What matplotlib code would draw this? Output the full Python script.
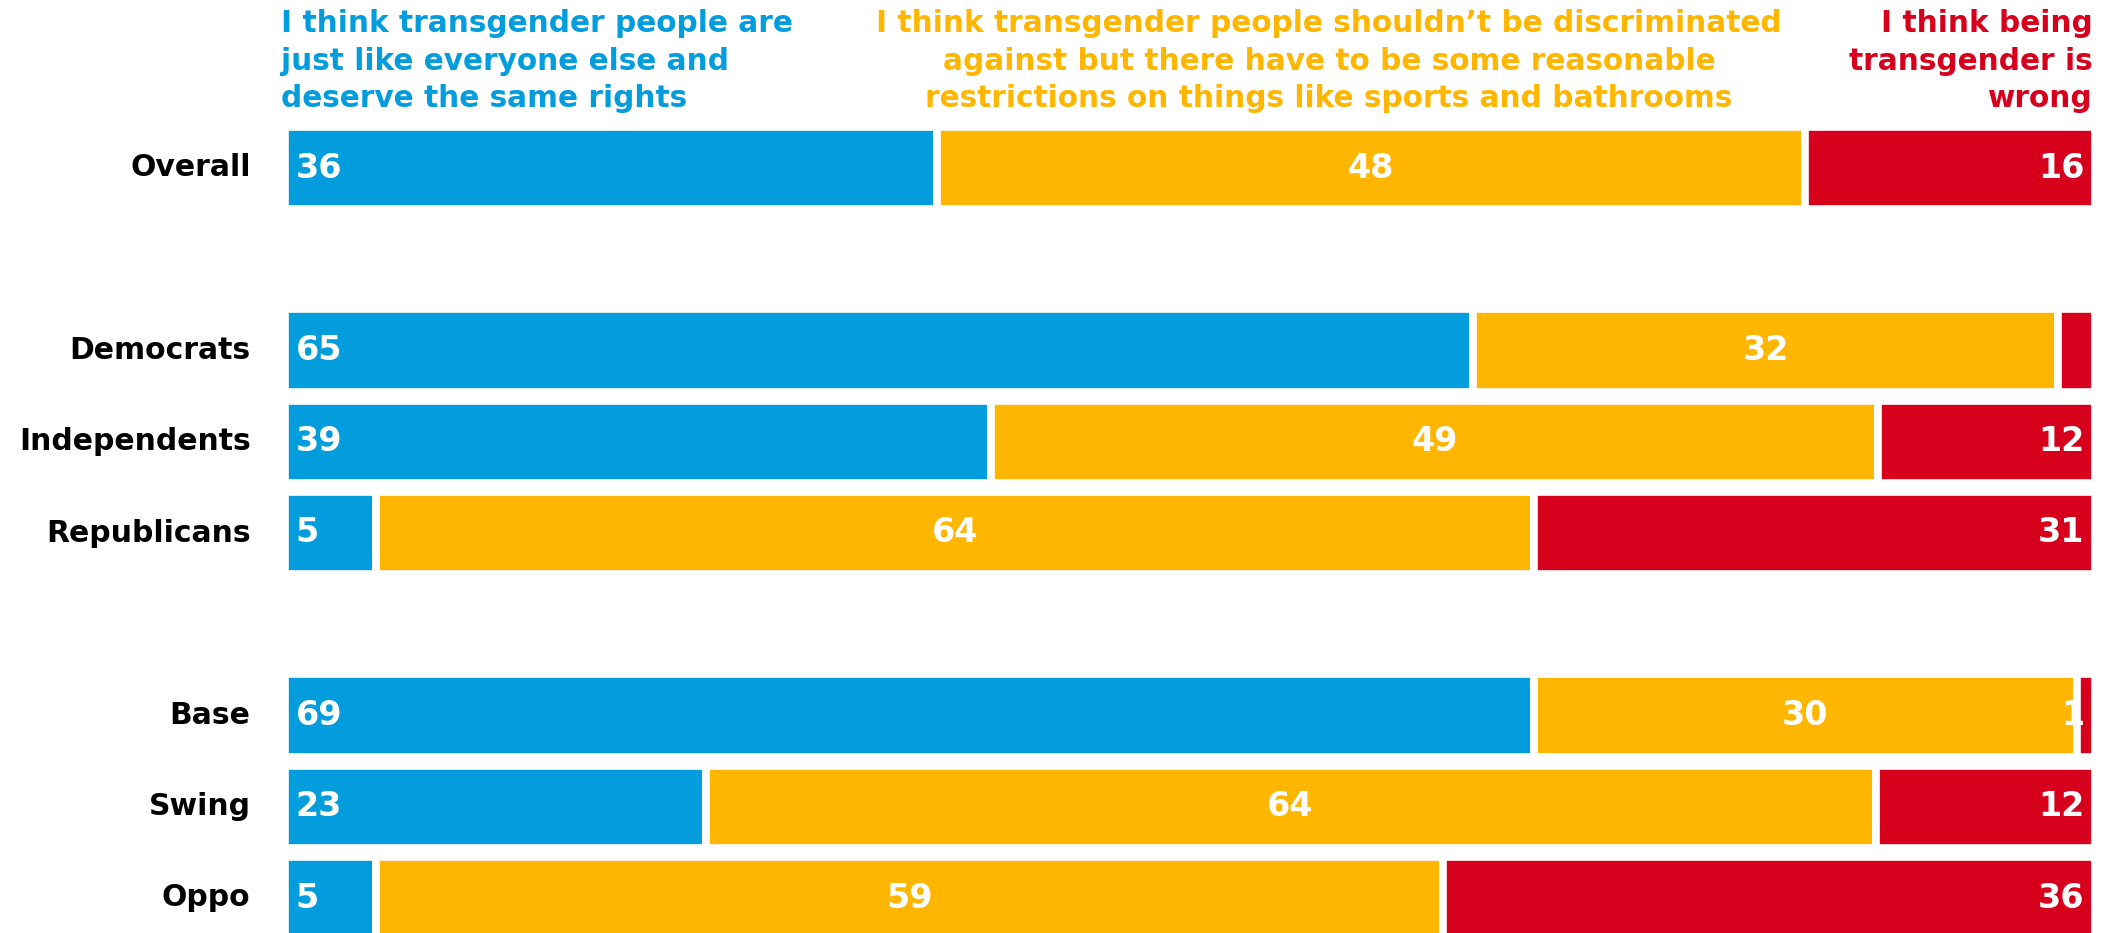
import matplotlib.pyplot as plt

# data
groups = ['Overall', 'Democrats', 'Independents', 'Republicans', 'Base', 'Swing', 'Oppo']
rows = [0, 2, 3, 4, 6, 7, 8]   # gaps between the three blocks
same_rights = [36, 65, 39, 5, 69, 23, 5]
restrictions = [48, 32, 49, 64, 30, 64, 59]
wrong = [16, 2, 12, 31, 1, 12, 36]
wrong_labels = ['16', '', '12', '31', '1', '12', '36']

headers = ['I think transgender people are\njust like everyone else and\ndeserve the same rights',
           'I think transgender people shouldn\u2019t be discriminated\nagainst but there have to be some reasonable\nrestrictions on things like sports and bathrooms',
           'I think being\ntransgender is\nwrong']

blue = '#039ddd'
orange = '#ffb600'
red = '#d6001d'

# bars are drawn as shares of each row's total so every row fills the width
tot = [a + b + c for a, b, c in zip(same_rights, restrictions, wrong)]
s1 = [100 * a / t for a, t in zip(same_rights, tot)]
s2 = [100 * b / t for b, t in zip(restrictions, tot)]
s3 = [100 * c / t for c, t in zip(wrong, tot)]

W, H = 2121, 933
fig = plt.figure(figsize=(W / 100, H / 100), dpi=100)
ax = fig.add_axes([285 / W, 0, (2095 - 285) / W, 1])

bar_h = 0.9
lw = 5.5
left3 = [a + b for a, b in zip(s1, s2)]
b1 = ax.barh(rows, s1, height=bar_h, color=blue, edgecolor='white', linewidth=lw)
b2 = ax.barh(rows, s2, left=s1, height=bar_h, color=orange, edgecolor='white', linewidth=lw)
b3 = ax.barh(rows, s3, left=left3, height=bar_h, color=red, edgecolor='white', linewidth=lw)

fs = 24
for i, r in enumerate(rows):
    ax.text(0.6, r, str(same_rights[i]), ha='left', va='center', color='white',
            fontsize=fs, fontweight='bold')
    ax.text(s1[i] + s2[i] / 2, r, str(restrictions[i]), ha='center', va='center',
            color='white', fontsize=fs, fontweight='bold')
    if wrong_labels[i]:
        t = ax.text(99.4, r, wrong_labels[i], ha='right', va='center', color='white',
                    fontsize=fs, fontweight='bold')
        if wrong[i] < 2:
            # label does not fit, it gets cut by the orange bar
            t.set_clip_path(b2.patches[i])
    ax.text(-1.9, r, groups[i], ha='right', va='center', color='black',
            fontsize=21.5, fontweight='bold', clip_on=False)

unit = 91.25
ax.set_xlim(0, 100)
ax.set_ylim((H - 168) / unit, -168 / unit)
ax.axis('off')

hfs = 21.3
fig.text(281 / W, 1 - 9 / H, headers[0], ha='left', va='top', color=blue,
         fontsize=hfs, fontweight='bold', linespacing=1.38)
fig.text(1329 / W, 1 - 9 / H, headers[1], ha='center', va='top', color=orange,
         fontsize=hfs, fontweight='bold', linespacing=1.38, multialignment='center')
fig.text(2093 / W, 1 - 9 / H, headers[2], ha='right', va='top', color=red,
         fontsize=hfs, fontweight='bold', linespacing=1.38, multialignment='right')

fig.savefig('out.png', dpi=100)
